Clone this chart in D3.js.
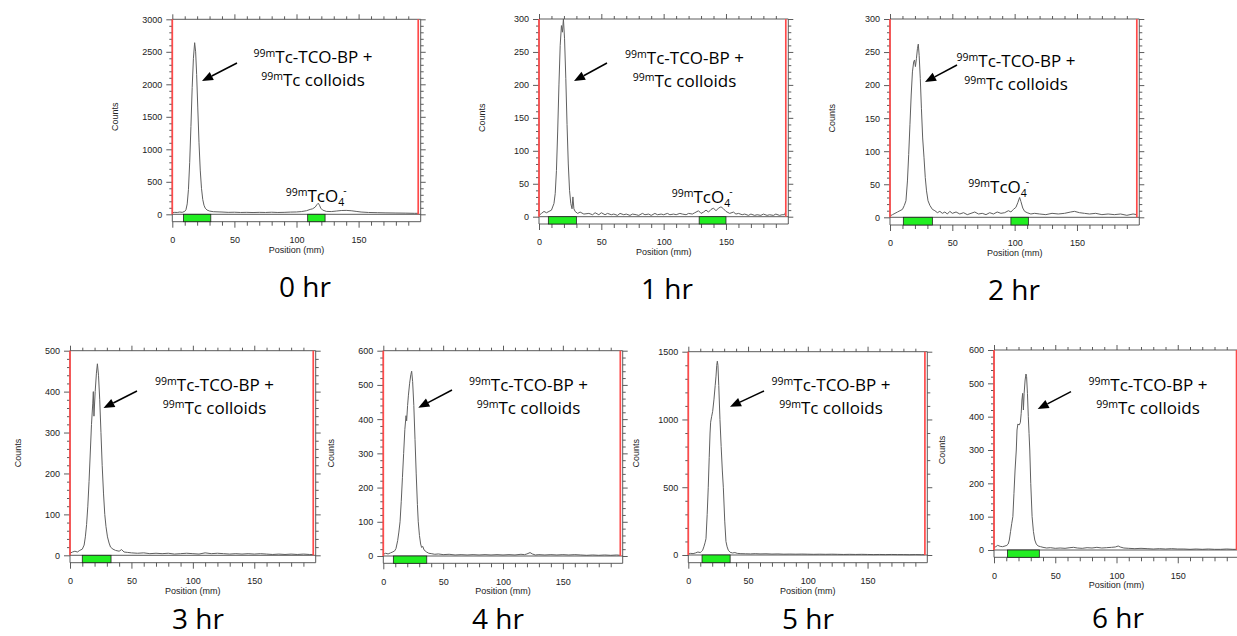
<!DOCTYPE html>
<html><head><meta charset="utf-8">
<script src="https://cdn.jsdelivr.net/npm/d3@7"></script>
<style>body{margin:0;background:#fff;} svg{display:block}</style>
</head><body><svg id="c" width="1237" height="636"></svg>
<script>
// ---------- DATA ----------
const timeLabels = ["0 hr", "1 hr", "2 hr", "3 hr", "4 hr", "5 hr", "6 hr"];
const yMax   = [3000, 300, 300, 500, 600, 1500, 600];
const yMajor = [500, 50, 50, 100, 100, 500, 100];
const yMinor = [100, 10, 10, 20, 20, 100, 20];
const xTickLabels = [0, 50, 100, 150];
const xDomain = [0, 200];
const redLinePositions = [0, 198];
const xAxisTitle = "Position (mm)";
const yAxisTitle = "Counts";
const peakLabelLine1 = ["99m", "Tc-TCO-BP +"];
const peakLabelLine2 = ["99m", "Tc colloids"];
const pertechnetateLabel = ["99m", "TcO", "4", "-"];

const profile0h = [[0,25],[2,30],[4,28],[6,35],[8,30],[10,45],[11,70],[12,160],[13,380],[14,800],[15,1350],[16,1950],[17,2400],[18,2640],[18.8,2500],[19.6,2150],[20.5,1650],[21.5,1100],[22.5,680],[23.5,400],[24.5,230],[25.5,140],[26.5,95],[28,65],[30,50],[33,40],[36,38],[40,35],[45,30],[50,32],[55,28],[60,30],[65,27],[70,30],[75,28],[80,32],[85,28],[90,30],[95,34],[100,36],[104,42],[108,55],[111,75],[113,85],[115,110],[116.5,150],[117.5,170],[118.5,140],[119.5,95],[121,65],[124,45],[128,42],[132,50],[136,58],[140,60],[144,55],[148,45],[152,35],[158,28],[165,25],[172,22],[180,20],[188,18],[195,15],[198,15]];
const profile1h = [[0,2],[2,5],[4,8],[6,6],[8,8],[10,10],[12,20],[13,35],[14,70],[15,130],[16,200],[17,260],[18,290],[18.8,280],[19.6,300],[20.5,270],[21.5,210],[22.5,140],[23.5,80],[24.5,40],[25.5,20],[26.5,12],[27.2,30],[28,12],[29,8],[31,5],[33,7],[36,4],[40,5],[43,3],[45,6],[48,3],[50,6],[53,3],[55,5],[58,3],[60,4],[63,2],[65,5],[68,3],[70,4],[73,2],[75,4],[78,3],[80,2],[83,5],[85,3],[88,4],[90,2],[93,5],[95,3],[98,4],[100,3],[103,5],[105,3],[108,4],[110,3],[113,5],[115,4],[118,3],[120,5],[123,4],[125,6],[128,9],[130,5],[132,7],[134,10],[136,7],[138,11],[140,13],[142,9],[144,13],[146,15],[148,12],[150,8],[153,5],[156,7],[158,4],[160,5],[163,3],[165,4],[168,2],[170,4],[173,2],[175,3],[178,2],[180,4],[183,2],[185,3],[188,2],[190,4],[193,2],[195,3],[197,3],[198,8]];
const profile2h = [[0,2],[2,4],[4,6],[6,8],[8,10],[10,12],[11.5,18],[12.8,25],[14,55],[15,95],[16,140],[17,185],[18,220],[19,235],[19.7,238],[20.4,228],[21.2,240],[22,255],[22.7,262],[23.4,245],[24.3,210],[25.2,165],[26.2,120],[27.3,90],[28.3,60],[29.3,40],[30.5,25],[32,18],[34,12],[36,10],[38,7],[40,9],[42,6],[44,8],[46,5],[48,9],[50,6],[53,8],[56,5],[59,7],[62,4],[65,6],[68,8],[71,5],[74,6],[77,4],[80,7],[83,5],[86,8],[89,6],[92,7],[95,10],[97,8],[99,12],[101,15],[102.5,22],[104,30],[105,24],[106.5,14],[108,9],[110,7],[113,5],[116,6],[120,5],[125,4],[130,6],[135,5],[140,6],[145,8],[148,9],[152,7],[156,6],[160,5],[165,6],[170,4],[175,5],[180,4],[185,5],[190,3],[195,5],[198,4]];
const profile3h = [[0,5],[2,8],[4,10],[6,8],[8,12],[10,15],[11.5,25],[12.5,45],[13.5,75],[14.5,120],[15.5,180],[16.5,250],[17.5,320],[18.5,370],[19,400],[19.5,340],[20.5,400],[21.5,445],[22.3,468],[23.2,440],[24.2,380],[25.2,300],[26.2,220],[27.3,150],[28.3,100],[29.3,70],[30.5,45],[31.8,30],[33,20],[35,15],[37,12],[40,10],[42,14],[44,8],[47,7],[50,6],[55,5],[60,6],[65,4],[70,5],[75,4],[80,5],[85,3],[90,4],[95,5],[100,4],[105,3],[110,6],[115,4],[120,5],[125,4],[130,3],[135,4],[140,3],[145,4],[150,3],[155,4],[160,3],[165,2],[170,3],[175,2],[180,3],[185,2],[190,3],[195,2],[198,2]];
const profile4h = [[0,5],[2,8],[4,6],[6,9],[8,12],[9.5,15],[10.6,22],[12,45],[13,70],[14,100],[15,160],[16,230],[17,300],[18,370],[19,410],[19.5,395],[20.3,440],[21,470],[22,505],[23,530],[23.7,540],[24.5,510],[25.5,440],[26.5,340],[27.5,240],[28.5,150],[29.2,100],[30.2,60],[31.2,35],[32,25],[33,28],[34,18],[36,12],[38,8],[40,7],[43,5],[46,6],[50,4],[55,5],[60,3],[65,4],[70,3],[75,4],[80,3],[85,4],[90,3],[95,4],[100,3],[105,4],[110,3],[115,5],[118,4],[120,6],[122.6,10],[124.5,6],[127,3],[130,4],[135,3],[140,4],[145,3],[150,4],[155,3],[160,4],[165,3],[170,2],[175,3],[180,2],[185,3],[190,2],[195,3],[198,2]];
const profile5h = [[0,8],[2,12],[4,10],[6,15],[8,22],[10,18],[11,25],[12,35],[13,60],[14,90],[14.8,120],[15.8,300],[16.7,500],[17.5,720],[18.2,900],[18.7,980],[19.5,1020],[20.4,1060],[21.5,1150],[22.5,1250],[23.2,1320],[23.8,1400],[24.3,1430],[24.8,1400],[25.5,1250],[26.5,1000],[27.5,800],[28.5,620],[29.3,500],[30.5,250],[31.5,100],[32.5,60],[33.5,35],[35,20],[37,15],[39,18],[41,12],[44,10],[48,9],[52,8],[56,10],[60,8],[65,9],[70,7],[75,8],[80,6],[85,7],[90,6],[95,7],[100,6],[105,5],[110,6],[115,5],[120,6],[125,5],[130,4],[135,5],[140,4],[145,5],[150,4],[155,3],[160,4],[165,3],[170,4],[175,3],[180,3],[185,2],[190,3],[195,2],[198,2]];
const profile6h = [[0,8],[1.5,10],[3,14],[5,11],[7,10],[9,12],[10.5,14],[11.6,18],[12.5,30],[13.5,55],[14.5,80],[15.4,100],[16.3,170],[17.2,240],[18.2,300],[18.8,360],[19.5,378],[20.5,375],[21.5,382],[22.2,410],[22.8,450],[23.4,470],[24,420],[24.6,470],[25.4,510],[26.1,528],[26.6,520],[27.3,470],[28,400],[28.6,350],[29.2,300],[30,200],[31.1,100],[32.2,55],[33.3,30],[34.5,18],[36,12],[38,10],[40,8],[43,6],[46,7],[50,5],[54,6],[58,5],[62,7],[65,8],[68,6],[72,5],[76,7],[80,6],[84,8],[88,6],[92,7],[96,8],[99,9],[101.4,12],[103,9],[106,6],[110,5],[115,4],[120,5],[125,4],[130,3],[135,4],[140,3],[145,4],[150,3],[155,3],[160,2],[165,3],[170,2],[175,3],[180,2],[185,2],[190,3],[195,2],[198,2]];
const profiles = [profile0h, profile1h, profile2h, profile3h, profile4h, profile5h, profile6h];

const originRegions = [[9,31],[7.5,30],[10.7,34],[10,33.4],[8.4,36.3],[11.5,35],[11,37]];
const frontRegions  = [[109,123],[128.5,150],[97,111],null,null,null,null];
const showPertechnetate = [true, true, true, false, false, false, false];

// ---------- LAYOUT (positions only) ----------
const layout = [
  {left:172.3, right:420.7, top:19.3, zero:214.3, strip:221.7, cdx:57, label:[305,297], ann:{cx:313, by:63, a:[237,63,202,81]}, tco:[285.7,201.7]},
  {left:539, right:788.3, top:19, zero:216.7, strip:224, cdx:57, label:[667,299], ann:{cx:684.5, by:63.5, a:[607,63,574,81]}, tco:[671.7,203.3]},
  {left:890, right:1139.3, top:19, zero:217.3, strip:225, cdx:58, label:[1014,300], ann:{cx:1016, by:66.5, a:[957,65,925,82]}, tco:[968.3,193.3]},
  {left:70, right:315.7, top:350.7, zero:555.3, strip:562.7, cdx:52, label:[198,629], ann:{cx:214.5, by:391, a:[137,391,103.5,408]}},
  {left:383.3, right:622.7, top:350.7, zero:556, strip:563.3, cdx:52, label:[498,629], ann:{cx:528.5, by:391, a:[452,390,418.3,407.7]}},
  {left:688.3, right:927.3, top:351.7, zero:555, strip:562.7, cdx:52, label:[808,629], ann:{cx:831, by:391, a:[764,391,730,406.7]}},
  {left:994, right:1239, top:350, zero:550, strip:557.3, cdx:52, label:[1118,628], ann:{cx:1148, by:391, a:[1071,391.7,1037.7,409]}}
];

const svg = d3.select('#c');
const FRAME = '#4a4a4a';
const AX_FONT = '"Liberation Sans", Arial, sans-serif';
const TXT_FONT = '"Open Sans", sans-serif';

function styleAxis(sel){
  sel.select('.domain').remove();
  sel.selectAll('.tick line').attr('stroke', FRAME).attr('stroke-width', 0.9);
  sel.selectAll('.tick text').attr('fill', '#222').style('font-family', AX_FONT).style('font-size', '9px');
}

profiles.forEach((prof, i) => {
  const L = layout[i];
  const x = d3.scaleLinear().domain(xDomain).range([L.left, L.right]);
  const y = d3.scaleLinear().domain([0, yMax[i]]).range([L.zero, L.top]);
  const g = svg.append('g');

  const majY = d3.range(0, yMax[i] + 1e-9, yMajor[i]);
  const minY = d3.range(0, yMax[i] + 1e-9, yMinor[i]).filter(v => v % yMajor[i] !== 0);
  const majX = xTickLabels;
  const minX = d3.range(10, 200, 10).filter(v => v % 50 !== 0);

  g.append('g').attr('transform', `translate(${L.left},0)`)
    .call(d3.axisLeft(y).tickValues(majY).tickSize(6).tickPadding(4).tickFormat(d3.format('d'))).call(styleAxis);
  g.append('g').attr('transform', `translate(${L.left},0)`)
    .call(d3.axisLeft(y).tickValues(minY).tickSize(3).tickFormat('')).call(styleAxis);
  g.append('g').attr('transform', `translate(${L.right},0)`)
    .call(d3.axisRight(y).tickValues(majY).tickSize(5).tickFormat('')).call(styleAxis);
  g.append('g').attr('transform', `translate(${L.right},0)`)
    .call(d3.axisRight(y).tickValues(minY).tickSize(3).tickFormat('')).call(styleAxis);
  g.append('g').attr('transform', `translate(0,${L.top})`)
    .call(d3.axisTop(x).tickValues(majX).tickSize(5).tickFormat('')).call(styleAxis);
  g.append('g').attr('transform', `translate(0,${L.top})`)
    .call(d3.axisTop(x).tickValues(minX).tickSize(3).tickFormat('')).call(styleAxis);
  g.append('g').attr('transform', `translate(0,${L.strip})`)
    .call(d3.axisBottom(x).tickValues(majX).tickSize(6).tickPadding(9).tickFormat(d3.format('d'))).call(styleAxis);
  g.append('g').attr('transform', `translate(0,${L.strip})`)
    .call(d3.axisBottom(x).tickValues(minX).tickSize(4).tickFormat('')).call(styleAxis);

  g.append('text').attr('x', x(100)).attr('y', L.strip + 31).attr('text-anchor', 'middle')
    .style('font-family', AX_FONT).style('font-size', '9px').attr('fill', '#222').text(xAxisTitle);
  g.append('text').attr('transform', `translate(${L.left - L.cdx},${(L.top + L.zero) / 2}) rotate(-90)`)
    .attr('text-anchor', 'middle').attr('dy', '0.35em')
    .style('font-family', AX_FONT).style('font-size', '9px').attr('fill', '#222').text(yAxisTitle);

  const line = d3.line().x(d => x(d[0])).y(d => y(d[1]));
  g.append('path').datum(prof).attr('d', line).attr('fill', 'none')
    .attr('stroke', '#606060').attr('stroke-width', 1).attr('stroke-linejoin', 'round');

  const frame = [
    [[0, 'top'], [0, 'strip']],
    [[200, 'top'], [200, 'strip']],
    [[0, 'top'], [200, 'top']],
    [[0, 'zero'], [200, 'zero']],
    [[0, 'strip'], [200, 'strip']]
  ];
  frame.forEach(seg => {
    g.append('line').attr('x1', x(seg[0][0])).attr('y1', L[seg[0][1]])
      .attr('x2', x(seg[1][0])).attr('y2', L[seg[1][1]])
      .attr('stroke', FRAME).attr('stroke-width', 0.9);
  });

  [originRegions[i], frontRegions[i]].forEach(r => {
    if (!r) return;
    g.append('rect').attr('x', x(r[0])).attr('y', L.zero).attr('width', x(r[1]) - x(r[0]))
      .attr('height', L.strip - L.zero).attr('fill', '#22ee22').attr('stroke', '#222').attr('stroke-width', 0.8);
  });

  redLinePositions.forEach(p => {
    g.append('line').attr('x1', x(p)).attr('x2', x(p)).attr('y1', y(yMax[i])).attr('y2', y(0))
      .attr('stroke', '#ff4a4a').attr('stroke-width', 1.7);
  });

  const A = L.ann;
  [peakLabelLine1, peakLabelLine2].forEach((parts, k) => {
    const t = g.append('text').attr('x', A.cx).attr('y', A.by + k * 23).attr('text-anchor', 'middle')
      .style('font-family', TXT_FONT).attr('fill', '#000');
    t.append('tspan').style('font-size', '10.5px').attr('dy', -6).text(parts[0]);
    t.append('tspan').style('font-size', '17px').attr('dy', 6).text(parts[1]);
  });
  const [sx, sy, ex, ey] = A.a;
  const ang = Math.atan2(ey - sy, ex - sx);
  const hl = 11, hw = 4.5;
  const bx = ex - hl * Math.cos(ang), by = ey - hl * Math.sin(ang);
  g.append('line').attr('x1', sx).attr('y1', sy).attr('x2', bx).attr('y2', by)
    .attr('stroke', '#000').attr('stroke-width', 1.5);
  g.append('polygon').attr('points', [
    [ex, ey],
    [bx + hw * Math.sin(ang), by - hw * Math.cos(ang)],
    [bx - hw * Math.sin(ang), by + hw * Math.cos(ang)]
  ].map(p => p.join(',')).join(' ')).attr('fill', '#000');

  if (showPertechnetate[i]) {
    const t = g.append('text').attr('x', L.tco[0]).attr('y', L.tco[1])
      .style('font-family', TXT_FONT).attr('fill', '#000');
    t.append('tspan').style('font-size', '10.5px').attr('dy', -6).text(pertechnetateLabel[0]);
    t.append('tspan').style('font-size', '17px').attr('dy', 6).text(pertechnetateLabel[1]);
    t.append('tspan').style('font-size', '10.5px').attr('dy', 4).text(pertechnetateLabel[2]);
    t.append('tspan').style('font-size', '10.5px').attr('dy', -12).attr('dx', -1).text(pertechnetateLabel[3]);
  }

  g.append('text').attr('x', L.label[0]).attr('y', L.label[1]).attr('text-anchor', 'middle')
    .style('font-family', TXT_FONT).style('font-size', '28px').attr('fill', '#000').text(timeLabels[i]);
});
</script></body></html>
